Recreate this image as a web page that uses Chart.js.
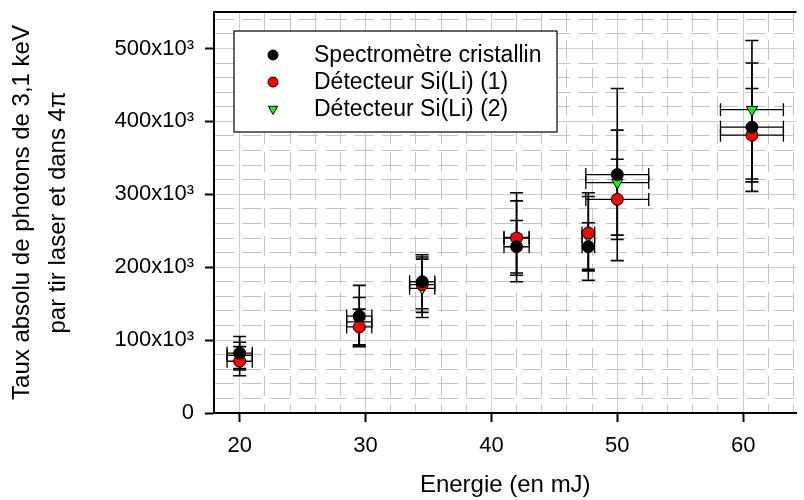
<!DOCTYPE html>
<html lang="fr">
<head>
  <meta charset="UTF-8" />
  <title>Taux absolu de photons de 3,1 keV</title>
  <script src="https://cdn.jsdelivr.net/npm/chart.js"></script>
  <style>
    html, body { margin: 0; padding: 0; background: #fff; overflow: hidden; }
    canvas { display: block; }
  </style>
</head>
<body>
  <canvas id="chart" width="804" height="500"></canvas>

  <script>
    // energies (mJ) and their horizontal error
    const ENERGY = [20, 29.5, 34.5, 42, 47.7, 50, 60.7];
    const ENERGY_ERR = [1, 1, 1, 1, 0.5, 2.5, 2.5];

    // photon counts
    const SPECTRO = [82000, 133000, 180000, 228000, 228000, 327000, 392000];
    const SPECTRO_ERR = [23000, 42000, 37000, 36000, 33000, 118000, 88000];
    const SILI_1 = [71000, 118000, 176000, 240000, 247000, 293000, 381000];
    const SILI_1_ERR = [20000, 24500, 38000, 51000, 50000, 55000, 64000];
    const SILI_2 = [79000, 125000, 171000, 241000, 242000, 316000, 416000];
    const SILI_2_ERR = [18000, 33500, 40000, 61000, 60000, 72000, 95000];

    const X_TICKS = [20, 30, 40, 50, 60];
    const X_MINOR = [22, 24, 26, 28, 32, 34, 36, 38, 42, 44, 46, 48, 52, 54, 56, 58, 62, 64];
    const Y_TICKS = [0, 100000, 200000, 300000, 400000, 500000];
    const Y_TICK_LABELS = ['0', '100x10³', '200x10³', '300x10³', '400x10³', '500x10³'];
    const Y_MINOR = [20000, 40000, 60000, 80000, 120000, 140000, 160000, 180000,
                     220000, 240000, 260000, 280000, 320000, 340000, 360000, 380000,
                     420000, 440000, 460000, 480000, 520000, 540000];

    const X_MIN = 17.96, X_MAX = 64.24;
    const Y_MIN = 0, Y_MAX = 550000;

    const FONT = '"Liberation Sans", Arial, sans-serif';
    const MAJOR_GRID = '#cdcdcd';
    const MINOR_GRID = '#c4c4c4';

    function points(ys) {
      return ENERGY.map((x, i) => ({ x: x, y: ys[i] }));
    }

    // keep the plot frame where it is, whatever the labels want
    function noPad(s) {
      s.paddingTop = 0; s.paddingBottom = 0; s.paddingLeft = 0; s.paddingRight = 0;
    }

    // error bars, drawn under the markers
    const errorBars = {
      id: 'errorBars',
      beforeDatasetsDraw(chart) {
        const ctx = chart.ctx;
        const xs = chart.scales.x, ys = chart.scales.y;
        ctx.save();
        ctx.strokeStyle = '#000';
        chart.data.datasets.forEach(ds => {
          ds.data.forEach((p, i) => {
            const px = xs.getPixelForValue(p.x);
            const py = ys.getPixelForValue(p.y);
            const top = ys.getPixelForValue(p.y + ds.yErr[i]);
            const bot = ys.getPixelForValue(p.y - ds.yErr[i]);
            const left = xs.getPixelForValue(p.x - ds.xErr[i]);
            const right = xs.getPixelForValue(p.x + ds.xErr[i]);
            ctx.lineWidth = 1.6;
            ctx.beginPath();
            ctx.moveTo(px, top); ctx.lineTo(px, bot);
            ctx.moveTo(px - 6.5, top); ctx.lineTo(px + 6.5, top);
            ctx.moveTo(px - 6.5, bot); ctx.lineTo(px + 6.5, bot);
            ctx.stroke();
            ctx.lineWidth = 1.3;
            ctx.beginPath();
            ctx.moveTo(left, py); ctx.lineTo(right, py);
            ctx.moveTo(left, py - 6.5); ctx.lineTo(left, py + 6.5);
            ctx.moveTo(right, py - 6.5); ctx.lineTo(right, py + 6.5);
            ctx.stroke();
          });
        });
        ctx.restore();
      }
    };

    function drawMarker(ctx, style, x, y, r) {
      ctx.beginPath();
      if (style === 'triangle') {
        ctx.moveTo(x, y + r);
        ctx.lineTo(x - r * 0.866, y - r * 0.5);
        ctx.lineTo(x + r * 0.866, y - r * 0.5);
        ctx.closePath();
      } else {
        ctx.arc(x, y, r, 0, Math.PI * 2);
      }
      ctx.fill();
      ctx.stroke();
    }

    // top frame line + boxed legend
    const frameAndLegend = {
      id: 'frameAndLegend',
      afterDraw(chart) {
        const ctx = chart.ctx;
        const area = chart.chartArea;
        ctx.save();
        ctx.strokeStyle = '#000';
        ctx.lineWidth = 2;
        ctx.beginPath();
        ctx.moveTo(area.left, area.top);
        ctx.lineTo(area.right, area.top);
        ctx.stroke();

        ctx.fillStyle = '#fff';
        ctx.lineWidth = 1.2;
        ctx.fillRect(234, 31, 323, 101);
        ctx.strokeRect(234, 31, 323, 101);

        ctx.font = '23px ' + FONT;
        ctx.textBaseline = 'middle';
        chart.data.datasets.forEach((ds, i) => {
          const y = 55 + i * 27;
          ctx.fillStyle = ds.backgroundColor;
          ctx.strokeStyle = '#000';
          ctx.lineWidth = 1;
          drawMarker(ctx, ds.pointStyle, 273, y, ds.pointStyle === 'triangle' ? 5.5 : 5);
          ctx.fillStyle = '#000';
          ctx.fillText(ds.label, 314, y + 1);
        });
        ctx.restore();
      }
    };

    new Chart(document.getElementById('chart'), {
      type: 'scatter',
      data: {
        datasets: [
          {
            label: 'Spectromètre cristallin',
            data: points(SPECTRO), yErr: SPECTRO_ERR, xErr: ENERGY_ERR,
            pointStyle: 'circle', pointRadius: 6, backgroundColor: '#000000',
            borderColor: '#000', borderWidth: 1
          },
          {
            label: 'Détecteur Si(Li) (1)',
            data: points(SILI_1), yErr: SILI_1_ERR, xErr: ENERGY_ERR,
            pointStyle: 'circle', pointRadius: 6, backgroundColor: '#ff0000',
            borderColor: '#000', borderWidth: 1
          },
          {
            label: 'Détecteur Si(Li) (2)',
            data: points(SILI_2), yErr: SILI_2_ERR, xErr: ENERGY_ERR,
            pointStyle: 'triangle', rotation: 180, pointRadius: 6.5, backgroundColor: '#00ff00',
            borderColor: '#000', borderWidth: 1
          }
        ]
      },
      options: {
        responsive: false,
        animation: false,
        devicePixelRatio: 1,
        layout: { padding: { top: 12, right: 0, left: 0, bottom: 0 } },
        plugins: { legend: { display: false }, tooltip: { enabled: false } },
        scales: {
          xMinor: {
            type: 'linear', position: 'bottom', min: X_MIN, max: X_MAX,
            afterBuildTicks: s => { s.ticks = X_MINOR.map(v => ({ value: v })); },
            afterFit: s => { s.height = 0; noPad(s); },
            ticks: { display: false },
            grid: { color: MINOR_GRID, lineWidth: 1, drawTicks: false },
            border: { display: false, dash: [20, 8] }
          },
          yMinor: {
            type: 'linear', position: 'left', min: Y_MIN, max: Y_MAX,
            afterBuildTicks: s => { s.ticks = Y_MINOR.map(v => ({ value: v })); },
            afterFit: s => { s.width = 0; noPad(s); },
            ticks: { display: false },
            grid: { color: MINOR_GRID, lineWidth: 1, drawTicks: false },
            border: { display: false, dash: [20, 8] }
          },
          x: {
            type: 'linear', position: 'bottom', min: X_MIN, max: X_MAX,
            afterBuildTicks: s => { s.ticks = X_TICKS.map(v => ({ value: v })); },
            afterFit: s => { s.height = 87; noPad(s); },
            ticks: { color: '#000', font: { family: FONT, size: 22 }, padding: 11, maxRotation: 0 },
            grid: { color: MAJOR_GRID, lineWidth: 1, tickColor: '#000', tickLength: 9, tickWidth: 2 },
            border: { color: '#000', width: 2 },
            title: {
              display: true, text: 'Energie (en mJ)', color: '#000',
              font: { family: FONT, size: 24, lineHeight: 1.2 },
              padding: { top: 0, bottom: 0 }
            }
          },
          y: {
            type: 'linear', position: 'left', min: Y_MIN, max: Y_MAX,
            afterBuildTicks: s => { s.ticks = Y_TICKS.map(v => ({ value: v })); },
            afterFit: s => { s.width = 214; noPad(s); },
            ticks: {
              color: '#000', font: { family: FONT, size: 22 }, padding: 11,
              callback: v => Y_TICK_LABELS[Y_TICKS.indexOf(v)]
            },
            grid: {
              color: c => (c.tick && c.tick.value === 0) ? 'rgba(0,0,0,0)' : MAJOR_GRID,
              lineWidth: 1, tickColor: '#000', tickLength: 9, tickWidth: 2
            },
            border: { color: '#000', width: 2 },
            title: {
              display: true,
              text: ['Taux absolu de photons de 3,1 keV', 'par tir laser et dans 4π'],
              color: '#000',
              font: { family: FONT, size: 24, lineHeight: 1.5 },
              padding: { top: 4, bottom: 0 }
            }
          }
        }
      },
      plugins: [errorBars, frameAndLegend]
    });
  </script>
</body>
</html>
